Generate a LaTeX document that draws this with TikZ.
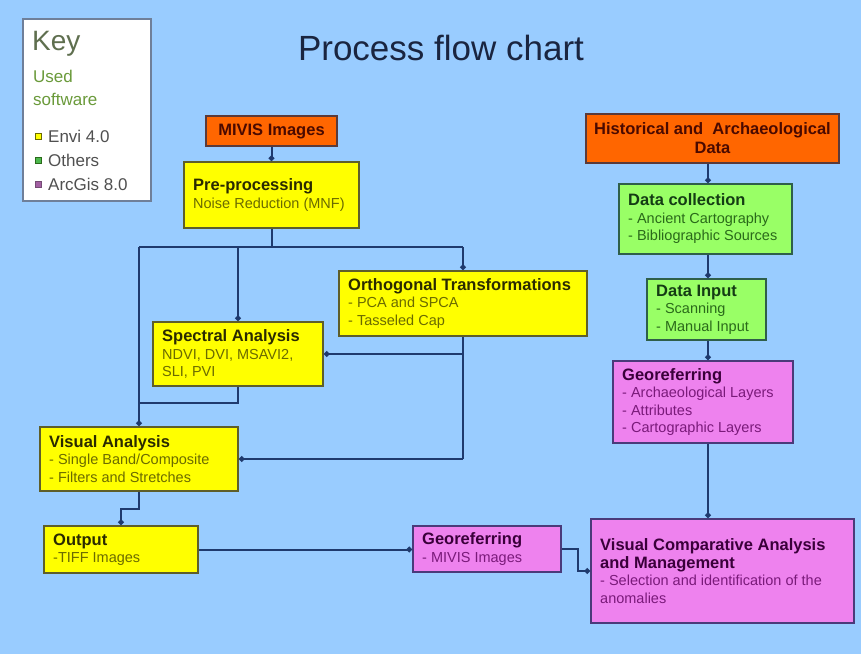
\documentclass[tikz,border=0pt]{standalone}
\usepackage{fontspec}
\setmainfont{Liberation Sans}
\usetikzlibrary{arrows.meta}
\definecolor{bg}{HTML}{99CCFF}
\definecolor{yel}{HTML}{FFFF00}
\definecolor{grn}{HTML}{99FF66}
\definecolor{pnk}{HTML}{EE82EE}
\definecolor{org}{HTML}{FF6600}
\definecolor{ybd}{HTML}{5E5E2A}
\definecolor{gbd}{HTML}{2F5F4A}
\definecolor{pbd}{HTML}{4A3A7A}
\definecolor{obd}{HTML}{5A3A3A}
\definecolor{ytit}{HTML}{2A2A00}
\definecolor{ysub}{HTML}{6B6B00}
\definecolor{gtit}{HTML}{143C14}
\definecolor{gsub}{HTML}{2A6A1A}
\definecolor{ptit}{HTML}{3A003A}
\definecolor{psub}{HTML}{7A1A7A}
\definecolor{otit}{HTML}{4A0A00}
\definecolor{ln}{HTML}{1F3A6E}
\definecolor{keybd}{HTML}{6F7F99}
\definecolor{keyc}{HTML}{5F6F4F}
\definecolor{usedc}{HTML}{6A9A3A}
\definecolor{itemc}{HTML}{505050}
\definecolor{titc}{HTML}{1A2540}
\colorlet{tcol}{black}
\newcommand\ttl[1]{{\bfseries\fontsize{16.5}{17.5}\selectfont\color{tcol}#1}}
\newcommand\mkbox[7]{%
  \node[#6box, minimum width=#4-#2, minimum height=#5-#3, anchor=north west] (#1) at (#2,#3) {};
  \node[#6txt] (#1t) at ([xshift=10pt]#1.west) {#7};
}
\begin{document}
\begin{tikzpicture}[x=1pt,y=-1pt,
  box/.style={draw, line width=2pt, inner sep=0pt, rectangle},
  ybox/.style={box, fill=yel, draw=ybd},
  gbox/.style={box, fill=grn, draw=gbd},
  pbox/.style={box, fill=pnk, draw=pbd},
  obox/.style={box, fill=org, draw=obd},
  txt/.style={anchor=west, align=left, inner sep=0pt, font=\fontsize{14.5}{17.5}\selectfont},
  ytxt/.style={txt, text=ysub, execute at begin node=\colorlet{tcol}{ytit}},
  gtxt/.style={txt, text=gsub, execute at begin node=\colorlet{tcol}{gtit}},
  ptxt/.style={txt, text=psub, execute at begin node=\colorlet{tcol}{ptit}},
  otxt/.style={align=center, inner sep=0pt, text=otit, font=\bfseries\fontsize{16.5}{19}\selectfont},
  conn/.style={draw=ln, line width=2pt, -{Circle[length=5.5pt]}},
  wire/.style={draw=ln, line width=2pt},
  sq/.style={draw, line width=0.8pt, minimum size=6pt, inner sep=0pt},
  item/.style={anchor=west, inner sep=0pt, text=itemc, font=\fontsize{17}{20}\selectfont}
]
\fill[bg] (0,0) rectangle (861,654);
\useasboundingbox (0,0) rectangle (861,654);

% title
\node[anchor=base, inner sep=0pt, text=titc, font=\fontsize{35}{40}\selectfont] (title) at (441,60) {Process flow chart};

% key
\node[draw=keybd, fill=white, line width=2pt, minimum width=128, minimum height=182, anchor=north west, inner sep=0pt] (key) at (22,18) {};
\node[anchor=base west, inner sep=0pt, text=keyc, font=\fontsize{28}{30}\selectfont] (keyt) at (32,50) {Key};
\node[anchor=north west, align=left, inner sep=0pt, text=usedc, font=\fontsize{17}{23}\selectfont] (used) at (33,70) {Used\\software};
\node[sq, fill=yel, draw=ysub] (s1) at (38,136) {};
\node[item] (i1) at (48,136) {Envi 4.0};
\node[sq, fill=green!60!black!70, draw=gsub] (s2) at (38,160) {};
\node[item] (i2) at (48,160) {Others};
\node[sq, fill=psub!70, draw=ptit!70] (s3) at (38,184) {};
\node[item] (i3) at (48,184) {ArcGis 8.0};

% left column
\node[obox, minimum width=131, minimum height=30, anchor=north west] (mivis) at (205,115) {};
\node[otxt] (mivist) at (mivis.center) {MIVIS Images};
\mkbox{pre}{183}{161}{358}{227}{y}{\ttl{Pre-processing}\\Noise Reduction (MNF)}
\mkbox{ortho}{338}{270}{586}{335}{y}{\ttl{Orthogonal Transformations}\\- PCA and SPCA\\- Tasseled Cap}
\mkbox{spec}{152}{321}{322}{385}{y}{\ttl{Spectral Analysis}\\NDVI, DVI, MSAVI2,\\SLI, PVI}
\mkbox{vis}{39}{426}{237}{490}{y}{\ttl{Visual Analysis}\\- Single Band/Composite\\- Filters and Stretches}
\mkbox{out}{43}{525}{197}{572}{y}{\ttl{Output}\\-TIFF Images}
\mkbox{geom}{412}{525}{560}{571}{p}{\ttl{Georeferring}\\- MIVIS Images}

% right column
\node[obox, minimum width=253, minimum height=49, anchor=north west] (hist) at (585,113) {};
\node[otxt] (histt) at (hist.center) {Historical and\ \ Archaeological\\Data};
\mkbox{dcol}{618}{183}{791}{253}{g}{\ttl{Data collection}\\- Ancient Cartography\\- Bibliographic Sources}
\mkbox{dinp}{646}{278}{765}{339}{g}{\ttl{Data Input}\\- Scanning\\- Manual Input}
\mkbox{geor}{612}{360}{792}{442}{p}{\ttl{Georeferring}\\- Archaeological Layers\\- Attributes\\- Cartographic Layers}
\mkbox{vca}{590}{518}{853}{622}{p}{\ttl{Visual Comparative Analysis}\\\ttl{and Management}\\- Selection and identification of the\\anomalies}

% connectors left
\coordinate (bus) at (0,247);
\coordinate (sj) at (0,403);
\draw[conn] (mivis.south) -- (mivis.south |- pre.north);
\draw[wire] (pre.south) -- (pre.south |- bus);
\draw[wire] (vis.north |- bus) -- (ortho.north |- bus);
\draw[conn] (ortho.north |- bus) -- (ortho.north);
\draw[conn] (spec.north |- bus) -- (spec.north);
\draw[conn] (vis.north |- bus) -- (vis.north);
\draw[wire] (spec.south) -- (spec.south |- sj) -- (vis.north |- sj);
\draw[wire] (ortho.south) -- (ortho.south |- vis.east);
\draw[conn] (ortho.south |- spec.east) -- (spec.east);
\draw[conn] (ortho.south |- vis.east) -- (vis.east);
\draw[conn] (vis.south) -- ++(0,17) -| (out.north);
\draw[conn] (out.east) -- (out.east -| geom.west);
\draw[conn] (geom.east) -- ++(16,0) |- (vca.west);

% connectors right
\coordinate (rx) at (708,0);
\draw[conn] (hist.south -| rx) -- (dcol.north -| rx);
\draw[conn] (dcol.south -| rx) -- (dinp.north -| rx);
\draw[conn] (dinp.south -| rx) -- (geor.north -| rx);
\draw[conn] (geor.south -| rx) -- (vca.north -| rx);
\end{tikzpicture}
\end{document}
